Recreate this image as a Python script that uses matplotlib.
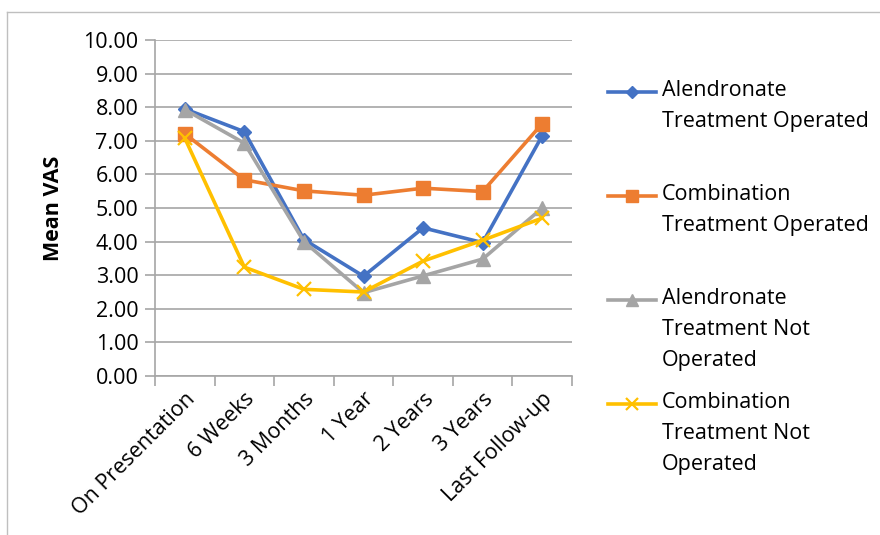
import matplotlib
matplotlib.use("Agg")
import matplotlib.pyplot as plt
from matplotlib.lines import Line2D

categories = ["On Presentation", "6 Weeks", "3 Months", "1 Year", "2 Years", "3 Years", "Last Follow-up"]
alen_op = [7.95, 7.27, 4.06, 2.97, 4.41, 3.97, 7.15]
comb_op = [7.21, 5.84, 5.51, 5.38, 5.59, 5.49, 7.51]
alen_not = [7.93, 6.93, 4.0, 2.48, 2.98, 3.48, 5.0]
comb_not = [7.08, 3.24, 2.58, 2.5, 3.42, 4.04, 4.7]
labels = ["Alendronate\nTreatment Operated", "Combination\nTreatment Operated",
          "Alendronate\nTreatment Not\nOperated", "Combination\nTreatment Not\nOperated"]
yticks = [0, 1, 2, 3, 4, 5, 6, 7, 8, 9, 10]

plt.rcParams['font.family'] = ['Open Sans', 'DejaVu Sans']

W, H = 880, 535
fig = plt.figure(figsize=(8.8, 5.35), dpi=100)
ax = fig.add_axes([155 / W, 1 - 376 / H, (572 - 155) / W, (376 - 40) / H])

x = list(range(len(categories)))
series = [
    (alen_op, "#4472C4", "D", 7.5),
    (comb_op, "#ED7D31", "s", 9.5),
    (alen_not, "#A5A5A5", "^", 10),
    (comb_not, "#FFC000", "x", 9.5),
]
for vals, col, mk, ms in series:
    kw = dict(color=col, lw=2.6, marker=mk, markersize=ms, zorder=3)
    if mk == "x":
        kw["markeredgewidth"] = 1.6
    ax.plot(x, vals, **kw)

ax.set_xlim(-0.5, len(categories) - 0.5)
ax.set_ylim(0, 10)
ax.set_yticks(yticks)
ax.set_yticklabels([f"{v:.2f}" for v in yticks], fontsize=15.5)
ax.yaxis.grid(True, color="#a6a6a6", lw=1.2, zorder=0)
ax.set_axisbelow(True)
for s in ["top", "right"]:
    ax.spines[s].set_visible(False)
for s in ["left", "bottom"]:
    ax.spines[s].set_color("#a6a6a6")
    ax.spines[s].set_linewidth(1.2)
ax.tick_params(axis="y", length=7, color="#a6a6a6", width=1.2, pad=5)
ax.set_xticks([i + 0.5 for i in range(-1, len(categories))], minor=False)
ax.set_xticklabels([])
ax.tick_params(axis="x", length=7, color="#a6a6a6", width=1.2)
ax.set_xticks(x, minor=True)
ax.set_xticklabels(categories, minor=True, rotation=45, ha="right", rotation_mode="anchor", fontsize=15.5)
ax.tick_params(axis="x", which="minor", length=0, pad=9)
ax.set_ylabel("Mean VAS", fontsize=15.5, fontweight="bold", labelpad=14)

# legend drawn manually
ly = [92, 196, 300, 404]
for (vals, col, mk, ms), lab, yy in zip(series, labels, ly):
    fy = 1 - yy / H
    kw = dict(color=col, lw=2.6, marker=mk, markersize=ms * 0.85, markevery=[1])
    if mk == "x":
        kw["markeredgewidth"] = 1.6
    fig.add_artist(Line2D([608 / W, 632 / W, 656 / W], [fy, fy, fy], transform=fig.transFigure, **kw))
    fig.text(662 / W, fy + 12 / H, lab, fontsize=15.5, va="top", ha="left", linespacing=1.62)

# outer frame
fig.add_artist(Line2D([7 / W, 7 / W], [0, 1 - 12 / H], transform=fig.transFigure, color="#bfbfbf", lw=1))
fig.add_artist(Line2D([7 / W, 1], [1 - 12 / H, 1 - 12 / H], transform=fig.transFigure, color="#bfbfbf", lw=1))

fig.savefig("out.png", dpi=100)
